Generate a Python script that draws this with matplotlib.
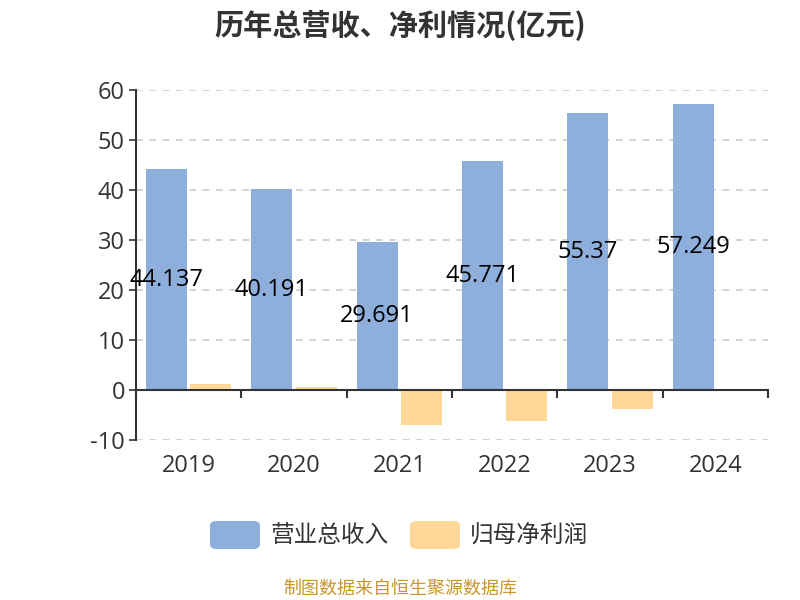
import matplotlib
matplotlib.use("Agg")
import matplotlib.pyplot as plt
from matplotlib.patches import FancyBboxPatch
import numpy as np

plt.rcParams['font.family'] = ['Open Sans', 'Noto Sans CJK SC', 'DejaVu Sans']
cjk = ['Noto Sans CJK SC', 'DejaVu Sans']

years = ["2019", "2020", "2021", "2022", "2023", "2024"]
revenue = [44.137, 40.191, 29.691, 45.771, 55.37, 57.249]
net_profit = [1.1, 0.6, -7.1, -6.3, -3.8, 0.1]
revenue_labels = ["44.137", "40.191", "29.691", "45.771", "55.37", "57.249"]
series_names = ["营业总收入", "归母净利润"]
yticks = [-10, 0, 10, 20, 30, 40, 50, 60]

blue = "#8eaedb"
orange = "#ffd898"
txt = "#333333"

fig = plt.figure(figsize=(8, 6), dpi=100)
ax = fig.add_axes([0.17, 0.2667, 0.79, 0.5833])

x = np.arange(len(years))
w = 0.39
off = 0.21
ax.bar(x - off, revenue, w, color=blue, zorder=3)
ax.bar(x + off, net_profit, w, color=orange, zorder=3)

for xi, v, lab in zip(x, revenue, revenue_labels):
    ax.text(xi - off, v / 2, lab, ha="center", va="center", fontsize=17, color="black", zorder=5)

ax.set_xlim(-0.5, 5.5)
ax.set_ylim(-10, 60)
ax.set_yticks(yticks)
ax.set_yticklabels([str(t) for t in yticks], fontsize=17, color=txt)
ax.tick_params(axis="y", length=5, width=1.2, color=txt, pad=3)

for t in yticks:
    if t != 0:
        ax.axhline(t, color="#cccccc", linestyle=(0, (4, 4)), linewidth=1.2, zorder=1)

for s in ["top", "right"]:
    ax.spines[s].set_visible(False)
ax.spines["left"].set_color(txt)
ax.spines["left"].set_linewidth(1.5)
ax.spines["bottom"].set_position(("data", 0))
ax.spines["bottom"].set_color(txt)
ax.spines["bottom"].set_linewidth(1.5)
ax.spines["bottom"].set_zorder(4)

ax.set_xticks(x)
ax.set_xticklabels(years, fontsize=17, color=txt)
ax.tick_params(axis="x", which="major", length=0, pad=46)
ax.set_xticks(np.arange(-0.5, 6.0, 1.0), minor=True)
ax.tick_params(axis="x", which="minor", length=6, width=1.5, color=txt, direction="out")

fig.text(0.5, 1 - 25 / 600, "历年总营收、净利情况(亿元)", ha="center", va="center",
         fontsize=21, fontweight="bold", color=txt, family=cjk)

# legend
for (x0, c, name) in [(210, blue, series_names[0]), (410, orange, series_names[1])]:
    p = FancyBboxPatch((x0 / 800, 1 - 549 / 600), 50 / 800, 28 / 600,
                       boxstyle="round,pad=0,rounding_size=0.008",
                       transform=fig.transFigure, facecolor=c, edgecolor="none")
    fig.add_artist(p)
    fig.text((x0 + 60) / 800, 1 - 535 / 600, name, ha="left", va="center",
             fontsize=17, color=txt, family=cjk)

fig.text(0.5, 1 - 589 / 600, "制图数据来自恒生聚源数据库", ha="center", va="center",
         fontsize=13, color="#c8962a", family=cjk)

fig.savefig("out.png", dpi=100)
